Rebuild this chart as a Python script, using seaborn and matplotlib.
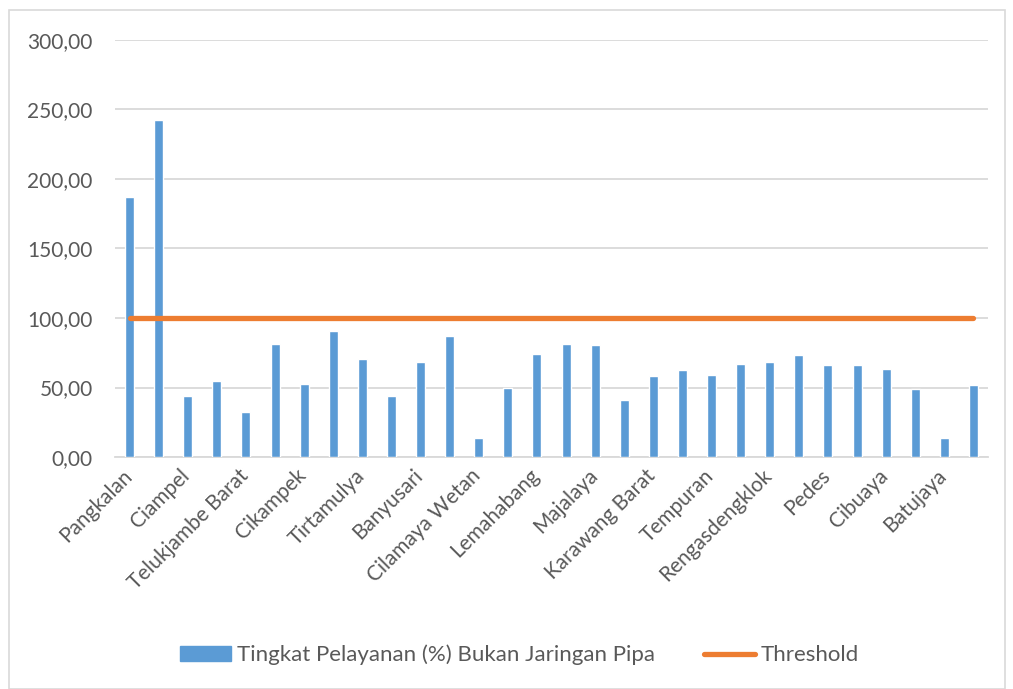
import numpy as np
import pandas as pd
import matplotlib
matplotlib.use("Agg")
import matplotlib.pyplot as plt
import matplotlib.transforms as mtransforms
import seaborn as sns
from matplotlib.patches import Rectangle, Patch
from matplotlib.lines import Line2D
from matplotlib.ticker import FuncFormatter

kecamatan = ["Pangkalan", "Tegalwaru", "Ciampel", "Telukjambe Timur", "Telukjambe Barat",
             "Klari", "Cikampek", "Purwasari", "Tirtamulya", "Jatisari",
             "Banyusari", "Kotabaru", "Cilamaya Wetan", "Cilamaya Kulon", "Lemahabang",
             "Telagasari", "Majalaya", "Karawang Timur", "Karawang Barat", "Rawamerta",
             "Tempuran", "Kutawaluya", "Rengasdengklok", "Jayakerta", "Pedes",
             "Cilebar", "Cibuaya", "Tirtajaya", "Batujaya", "Pakisjaya"]
pelayanan = [187.3, 242.2, 44.2, 54.5, 32.7, 81.3, 52.8, 90.9, 70.5, 43.7,
             68.4, 87.1, 13.9, 49.7, 74.4, 81.6, 80.9, 41.3, 58.1, 62.4,
             59.1, 67.0, 68.6, 73.4, 66.2, 66.5, 63.4, 49.0, 13.9, 52.1]
threshold = [100] * len(kecamatan)
y_ticks = [0, 50, 100, 150, 200, 250, 300]

blue = "#5b9bd5"
orange = "#ed7d31"
grey_txt = "#595959"
grid_c = "#d9d9d9"

sns.set_style("white")
plt.rcParams["font.family"] = ["Lato", "DejaVu Sans"]

df = pd.DataFrame({"kecamatan": kecamatan, "nilai": pelayanan})

fig = plt.figure(figsize=(10.13, 6.89), dpi=100)
ax = fig.add_axes([115 / 1013, 1 - 457 / 689, 873 / 1013, 417 / 689])

sns.barplot(data=df, x="kecamatan", y="nilai", color=blue, width=0.31,
            saturation=1, ax=ax, zorder=3)
ax.plot(range(len(kecamatan)), threshold, color=orange, lw=3.8,
        solid_capstyle="round", zorder=4)

ax.set_xlim(-0.5, len(kecamatan) - 0.5)
ax.set_ylim(0, 300)
ax.set_yticks(y_ticks)
ax.yaxis.set_major_formatter(FuncFormatter(lambda v, p: f"{v:.2f}".replace(".", ",")))
ax.grid(axis="y", color=grid_c, lw=1.3, zorder=0)
ax.set_xlabel("")
ax.set_ylabel("")
for s in ["top", "right", "left"]:
    ax.spines[s].set_visible(False)
ax.spines["bottom"].set_color(grid_c)
ax.spines["bottom"].set_linewidth(1.3)

ax.set_xticks(range(len(kecamatan)))
ax.set_xticklabels([k if i % 2 == 0 else "" for i, k in enumerate(kecamatan)],
                   rotation=45, ha="right", rotation_mode="anchor")
ax.tick_params(axis="both", length=0, labelsize=15, colors=grey_txt)
ax.tick_params(axis="y", pad=16)
ax.tick_params(axis="x", pad=6)
shift = mtransforms.ScaledTranslation(-8 / 100, 0, fig.dpi_scale_trans)
for lab in ax.get_xticklabels():
    lab.set_transform(lab.get_transform() + shift)

# chart border
fig.patches.append(Rectangle((9 / 1013, 0), 996 / 1013, 1 - 10 / 689,
                             transform=fig.transFigure, fill=False,
                             edgecolor=grid_c, lw=1.2))

handles = [Patch(facecolor=blue, edgecolor=blue),
           Line2D([0], [0], color=orange, lw=3.8, solid_capstyle="round")]
fig.legend(handles, ["Tingkat Pelayanan (%) Bukan Jaringan Pipa", "Threshold"],
           loc="center", bbox_to_anchor=(519.5 / 1013, 1 - 655 / 689), ncol=2,
           frameon=False, fontsize=16, labelcolor=grey_txt,
           handlelength=2.3, handleheight=0.6, handletextpad=0.25,
           columnspacing=2.2)

fig.savefig("out.png", dpi=100)
